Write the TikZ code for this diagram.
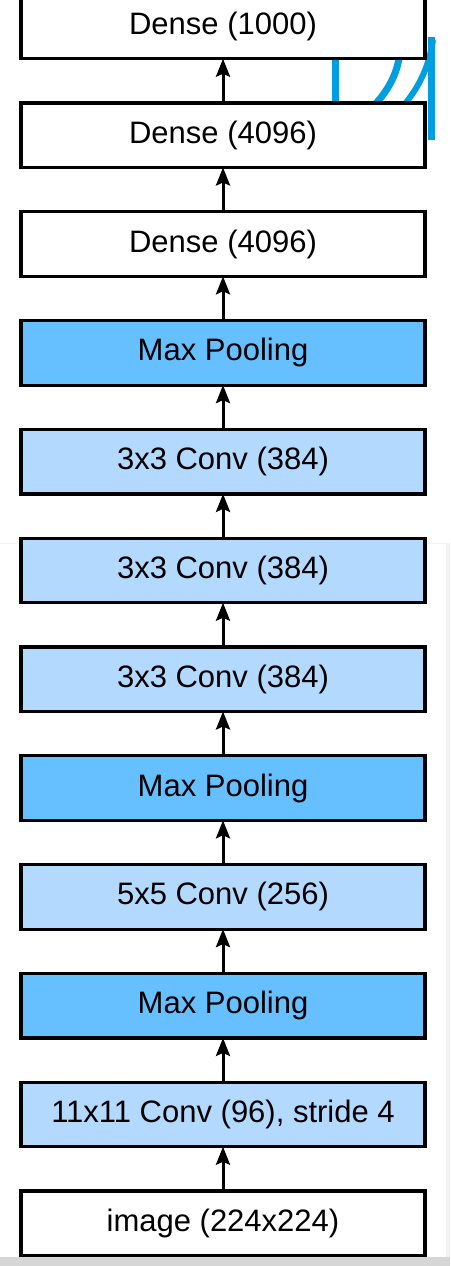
\documentclass[tikz,border=0pt]{standalone}
\usepackage{fontspec}
\setmainfont{Liberation Sans}
\usetikzlibrary{arrows.meta}
\definecolor{convblue}{RGB}{179,217,255}
\definecolor{poolblue}{RGB}{102,191,255}
\definecolor{iconblue}{RGB}{0,158,224}
\definecolor{bandgrey}{RGB}{214,214,214}
\definecolor{faintgrey}{RGB}{242,242,242}
\tikzset{
  layer/.style={draw=black, line width=3.2pt, minimum width=404pt, minimum height=64.5pt,
    inner sep=0pt, outer sep=0pt, font=\fontsize{31}{35}\selectfont, text=black},
  plain/.style={layer, fill=white},
  conv/.style={layer, fill=convblue},
  pool/.style={layer, fill=poolblue},
  flow/.style={line width=3pt, -{Stealth[length=18pt,width=14pt,inset=3pt]}},
  icon/.style={draw=iconblue, line width=7pt}
}
\begin{document}
\begin{tikzpicture}[x=1pt,y=1pt]
\useasboundingbox (0,0) rectangle (450,-1266);
\fill[white] (0,0) rectangle (450,-1266);
% screenshot remnants
\fill[faintgrey] (0,-542.5) rectangle (450,-544);
\fill[faintgrey] (446,-544) rectangle (450,-1266);
\fill[bandgrey] (0,-1257) rectangle (450,-1266);
\draw[icon] (431,-37) -- (431,-140);
\draw[icon] (335.5,-40) -- (335.5,-120);
\draw[icon] (400,-45) .. controls (400,-72) and (388,-92) .. (368,-112);
\draw[icon, line width=6pt] (433,-40) .. controls (428,-72) and (416,-92) .. (398,-112);
% layers
\node[plain] (img)   at (223,-1223.25) {image (224x224)};
\node[conv]  (c1)    at (223,-1114.45) {11x11 Conv (96), stride 4};
\node[pool]  (p1)    at (223,-1005.65) {Max Pooling};
\node[conv]  (c2)    at (223,-896.85)  {5x5 Conv (256)};
\node[pool]  (p2)    at (223,-788.05)  {Max Pooling};
\node[conv]  (c3)    at (223,-679.25)  {3x3 Conv (384)};
\node[conv]  (c4)    at (223,-570.45)  {3x3 Conv (384)};
\node[conv]  (c5)    at (223,-461.65)  {3x3 Conv (384)};
\node[pool]  (p3)    at (223,-352.85)  {Max Pooling};
\node[plain] (d1)    at (223,-244.05)  {Dense (4096)};
\node[plain] (d2)    at (223,-135.25)  {Dense (4096)};
\node[plain] (d3)    at (223,-26.45)   {Dense (1000)};
% connectors
\foreach \a/\b in {img/c1,c1/p1,p1/c2,c2/p2,p2/c3,c3/c4,c4/c5,c5/p3,p3/d1,d1/d2,d2/d3}
  \draw[flow] (\a.north) -- (\b.south);
\end{tikzpicture}
\end{document}
